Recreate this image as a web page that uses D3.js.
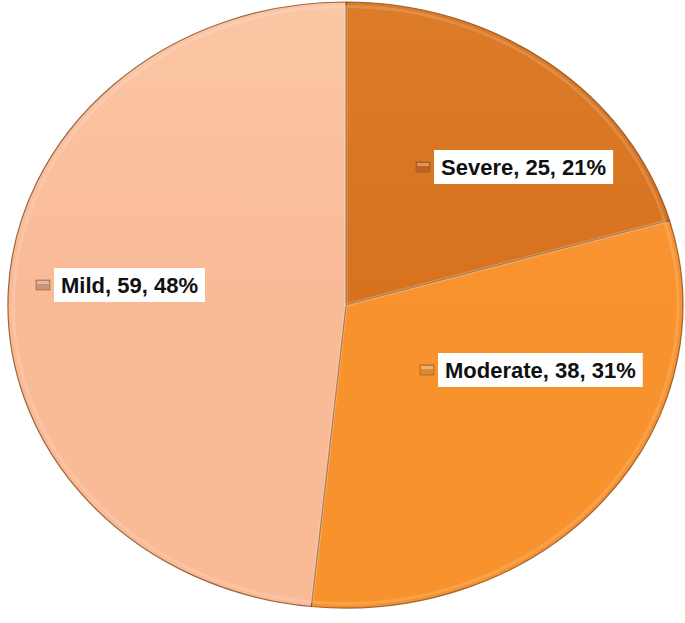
<!DOCTYPE html>
<html><head><meta charset="utf-8">
<script src="https://cdn.jsdelivr.net/npm/d3@7"></script>
<style>html,body{margin:0;padding:0;background:#fff;}svg{display:block;}</style>
</head><body>
<svg id="chart" width="685" height="623"></svg>
<script>
const categories = ["Severe", "Moderate", "Mild"];
const values = [25, 38, 59];
const percents = ["21%", "31%", "48%"];
const colors = ["#d7721f", "#f8922d", "#f9ba96"];
const lightColors = ["#dc7b28", "#fa9c3a", "#fbc6a5"];
const markerColors = ["#c0621c", "#d98a34", "#c9937a"];

// layout
const W = 685, H = 623;
const cx = 346, cy = 305, rx = 337, ry = 303;
const labelAnchors = [[416, 167], [420, 370], [36, 285]]; // marker left, text middle

const svg = d3.select("#chart");
const defs = svg.append("defs");
colors.forEach((c, i) => {
  const g = defs.append("linearGradient").attr("id", "g" + i)
    .attr("gradientUnits", "userSpaceOnUse")
    .attr("x1", 0).attr("y1", -1).attr("x2", 0).attr("y2", 1);
  g.append("stop").attr("offset", "0%").attr("stop-color", lightColors[i]);
  g.append("stop").attr("offset", "50%").attr("stop-color", c);
  g.append("stop").attr("offset", "100%").attr("stop-color", c);
});

const pie = d3.pie().sort(null).value(d => d)(values);
const arc = d3.arc().innerRadius(0).outerRadius(1);

const gPie = svg.append("g").attr("transform", `translate(${cx},${cy}) scale(${rx},${ry})`);
gPie.selectAll("path.slice").data(pie).join("path")
  .attr("class", "slice")
  .attr("d", arc)
  .attr("fill", (d, i) => `url(#g${i})`)
  .attr("stroke", "#7a3f12")
  .attr("stroke-opacity", 0.75)
  .attr("stroke-width", 1.2)
  .attr("stroke-linejoin", "round")
  .attr("vector-effect", "non-scaling-stroke");

const arcIn = d3.arc().innerRadius(0).outerRadius(0.985);
gPie.selectAll("path.hl").data(pie).join("path")
  .attr("class", "hl")
  .attr("d", arcIn)
  .attr("fill", "none")
  .attr("stroke", "#ffffff")
  .attr("stroke-opacity", 0.15)
  .attr("stroke-width", 3)
  .attr("vector-effect", "non-scaling-stroke");

// labels
const gl = svg.append("g");
pie.forEach((d, i) => {
  const [mx, my] = labelAnchors[i];
  const g = gl.append("g");
  g.append("rect").attr("x", mx).attr("y", my - 5).attr("width", 14).attr("height", 10)
    .attr("fill", markerColors[i]).attr("stroke", "#8a4a1c").attr("stroke-width", 0.5);
  g.append("rect").attr("x", mx + 1).attr("y", my - 4).attr("width", 12).attr("height", 3)
    .attr("fill", "#ffffff").attr("opacity", 0.35);
  const box = g.append("rect").attr("fill", "#fff");
  const t = g.append("text")
    .attr("x", mx + 25).attr("y", my + 8)
    .attr("font-family", "'Liberation Sans', Arial, sans-serif")
    .attr("font-weight", "bold").attr("font-size", 22).attr("fill", "#111")
    .text(`${categories[i]}, ${values[i]}, ${percents[i]}`);
  const bb = t.node().getBBox();
  box.attr("x", mx + 18).attr("y", my - 17).attr("width", bb.width + 14).attr("height", 34);
});
</script>
</body></html>
